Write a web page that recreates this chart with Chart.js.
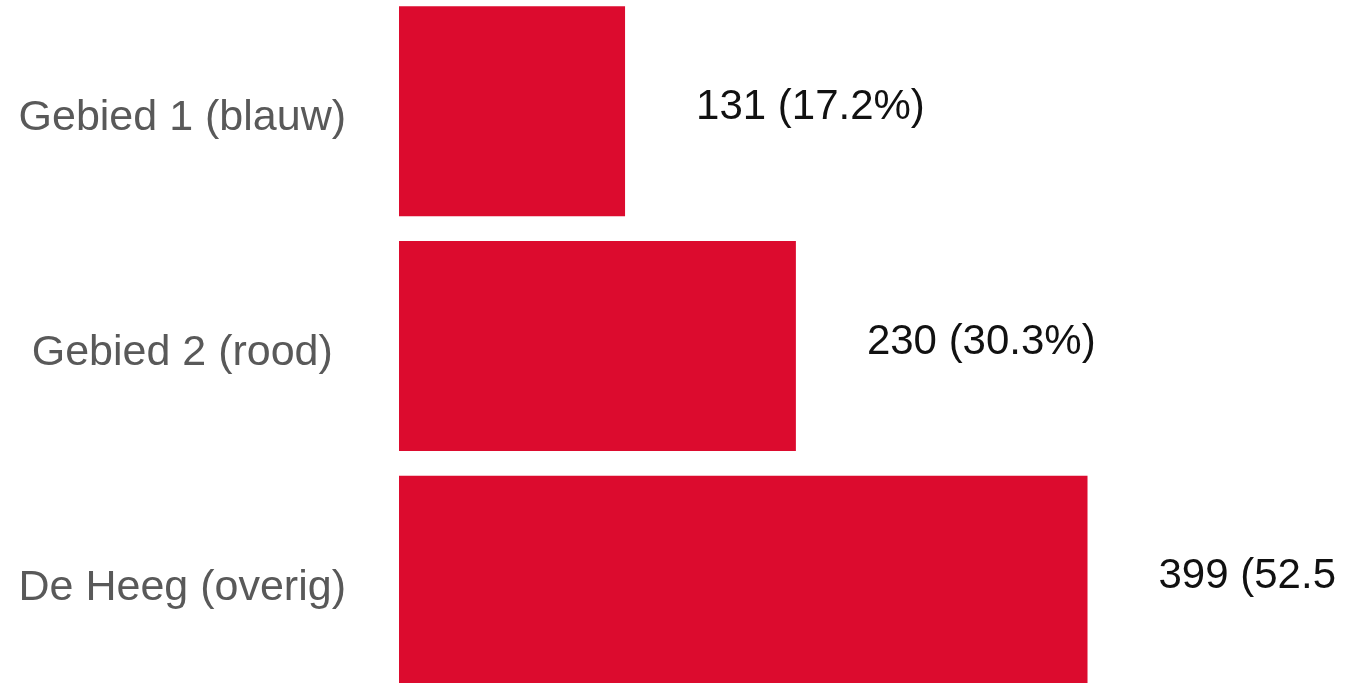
<!DOCTYPE html>
<html>
<head>
<meta charset="utf-8">
<script src="https://cdn.jsdelivr.net/npm/chart.js@4"></script>
<style>
  html, body { margin: 0; padding: 0; background: #fff; overflow: hidden; width: 1362px; height: 683px; }
  #wrap { position: absolute; left: 0; top: -6px; width: 1336px; height: 704px; }
</style>
</head>
<body>
<div id="wrap"><canvas id="areaChart"></canvas></div>
<script>
// Respondenten per gebied
const categories = ['Gebied 1 (blauw)', 'Gebied 2 (rood)', 'De Heeg (overig)'];
const counts = [131, 230, 399];

const total = counts.reduce((a, b) => a + b, 0);
const valueLabels = counts.map(v => v + ' (' + (v / total * 100).toFixed(1) + '%)');

// value text to the right of each bar
const barValues = {
  id: 'barValues',
  afterDatasetsDraw(chart) {
    const ctx = chart.ctx;
    const meta = chart.getDatasetMeta(0);
    ctx.save();
    ctx.font = '42px "Liberation Sans", Arial, sans-serif';
    ctx.fillStyle = '#111';
    ctx.textAlign = 'left';
    ctx.textBaseline = 'middle';
    meta.data.forEach((bar, i) => {
      ctx.fillText(valueLabels[i], bar.x + 71, bar.y - 4);
    });
    ctx.restore();
  }
};

const ctx1 = document.getElementById('areaChart').getContext('2d');
new Chart(ctx1, {
  type: 'bar',
  data: {
    labels: categories,
    datasets: [
      {
        data: counts,
        backgroundColor: '#DC0B2E',
        borderWidth: 0,
        barPercentage: 0.895,
        categoryPercentage: 1
      }
    ]
  },
  options: {
    indexAxis: 'y',
    responsive: true,
    maintainAspectRatio: false,
    animation: false,
    layout: { padding: 0 },
    plugins: { legend: { display: false }, tooltip: { enabled: false } },
    scales: {
      x: { display: false, min: 0, max: 543 },
      y: {
        grid: { display: false },
        border: { display: false },
        ticks: {
          crossAlign: 'center',
          padding: 45,
          labelOffset: 7,
          color: '#595959',
          font: { family: '"Liberation Sans", Arial, sans-serif', size: 43 }
        },
        afterFit(scale) {
          scale.width = 399;
          scale.paddingTop = 0;
          scale.paddingBottom = 0;
        }
      }
    }
  },
  plugins: [barValues]
});
</script>
</body>
</html>
